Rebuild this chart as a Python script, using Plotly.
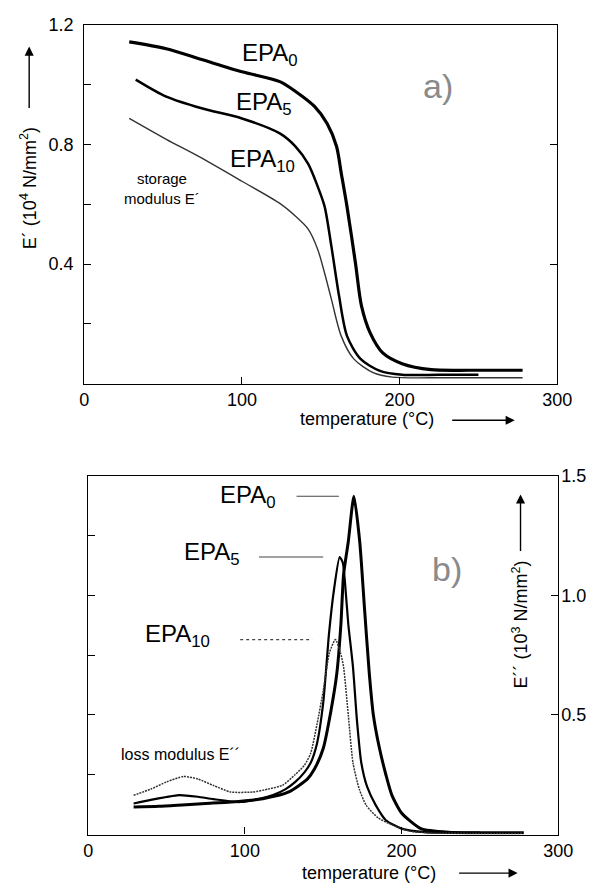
import plotly.graph_objects as go

# ---- data ----
# (a) storage modulus E' (10^4 N/mm^2) vs temperature (degC)
t_epa0_st = [28.5, 52, 75, 100, 124, 134, 146, 154, 160, 163, 166.6, 172, 175.8, 181.3, 189.3, 201.6, 220, 245, 278]
e_epa0_st = [1.143, 1.12, 1.083, 1.043, 1.01, 0.977, 0.927, 0.87, 0.793, 0.703, 0.593, 0.403, 0.26, 0.17, 0.103, 0.067, 0.047, 0.045, 0.045]

t_epa5_st = [32.6, 52, 75, 100, 124, 134, 142, 148, 152.4, 156.7, 161.6, 166.6, 175.2, 187.5, 201.6, 225, 250]
e_epa5_st = [1.017, 0.96, 0.92, 0.887, 0.837, 0.793, 0.735, 0.66, 0.593, 0.46, 0.293, 0.16, 0.083, 0.043, 0.03, 0.03, 0.03]

t_epa10_st = [28.5, 52, 72.5, 100, 124, 134, 142, 148, 152.4, 156.7, 162.9, 170.9, 183.2, 195.4, 230, 278]
e_epa10_st = [0.887, 0.817, 0.76, 0.677, 0.603, 0.56, 0.517, 0.45, 0.37, 0.283, 0.16, 0.083, 0.037, 0.022, 0.02, 0.02]

# (b) loss modulus E'' (10^3 N/mm^2) vs temperature (degC)
t_epa0_ls = [29, 45, 60, 75, 91, 111.5, 128, 140, 144.4, 150, 155, 158.7, 161.3, 163, 166, 169.6, 173.3, 176.3, 179.4, 182, 185.6, 190, 193.8, 200, 212.3, 230, 278]
e_epa0_ls = [0.115, 0.118, 0.124, 0.13, 0.136, 0.15, 0.178, 0.233, 0.274, 0.36, 0.52, 0.674, 0.88, 1.087, 1.224, 1.414, 1.224, 0.95, 0.674, 0.5, 0.37, 0.25, 0.165, 0.09, 0.025, 0.01, 0.008]

t_epa5_ls = [29, 40, 50, 58, 70, 80, 97, 110, 118, 126, 132, 138, 142, 146, 150, 153.7, 156.8, 160.5, 162.5, 164, 166, 169, 171.5, 174.3, 178, 183.5, 190, 200, 215, 250]
e_epa5_ls = [0.13, 0.145, 0.157, 0.165, 0.158, 0.148, 0.136, 0.15, 0.165, 0.19, 0.219, 0.26, 0.3, 0.38, 0.55, 0.84, 1.02, 1.16, 1.136, 1.045, 0.88, 0.7, 0.48, 0.3, 0.2, 0.123, 0.06, 0.025, 0.01, 0.008]

t_epa10_ls = [29, 40, 50, 61, 70, 80, 91, 105, 115, 124, 132, 138, 142, 146, 150, 154, 157.8, 161, 163, 166, 169, 173, 177.4, 185, 193.8, 205, 220, 240, 278]
e_epa10_ls = [0.164, 0.19, 0.22, 0.243, 0.232, 0.205, 0.178, 0.178, 0.19, 0.206, 0.25, 0.29, 0.34, 0.46, 0.6, 0.76, 0.815, 0.76, 0.7, 0.5, 0.3, 0.19, 0.123, 0.07, 0.041, 0.015, 0.006, 0.005, 0.005]

x_ticks = [0, 100, 200, 300]
y_ticks_a = [0.2, 0.4, 0.6, 0.8, 1.0, 1.2]
y_labels_a = ['', '0.4', '', '0.8', '', '1.2']
y_ticks_a_right = [0.4, 0.8]
y_ticks_b_left = [0.25, 0.5, 0.75, 1.0, 1.25]
y_ticks_b_right = [0.5, 1.0, 1.5]
y_labels_b_right = ['0.5', '1.0', '1.5']

FONT = 'Liberation Sans'
W, H = 610, 884


def px(x):
    return x / W


def py(y):
    return 1 - y / H


fig = go.Figure()

# top panel
fig.add_trace(go.Scatter(x=t_epa0_st, y=e_epa0_st, mode='lines', line=dict(color='black', width=3.2, shape='spline', smoothing=0.8), xaxis='x', yaxis='y'))
fig.add_trace(go.Scatter(x=t_epa5_st, y=e_epa5_st, mode='lines', line=dict(color='black', width=2.5, shape='spline', smoothing=0.8), xaxis='x', yaxis='y'))
fig.add_trace(go.Scatter(x=t_epa10_st, y=e_epa10_st, mode='lines', line=dict(color='#333', width=1.4, shape='spline', smoothing=0.8), xaxis='x', yaxis='y'))

# bottom panel
fig.add_trace(go.Scatter(x=t_epa0_ls, y=e_epa0_ls, mode='lines', line=dict(color='black', width=3, shape='spline', smoothing=0.6), xaxis='x2', yaxis='y2'))
fig.add_trace(go.Scatter(x=t_epa5_ls, y=e_epa5_ls, mode='lines', line=dict(color='black', width=2.2, shape='spline', smoothing=0.6), xaxis='x2', yaxis='y2'))
fig.add_trace(go.Scatter(x=t_epa10_ls, y=e_epa10_ls, mode='lines', line=dict(color='#333', width=1.5, dash='2px,1px', shape='spline', smoothing=0.6), xaxis='x2', yaxis='y2'))

# leader lines for the labels in (b), drawn at each curve's peak height
leaders = [(133, 160, max(e_epa0_ls), 'solid'),
           (109, 150, max(e_epa5_ls), 'solid'),
           (97, 143, max(e_epa10_ls), 'dot')]
for x0, x1, yv, dash in leaders:
    fig.add_trace(go.Scatter(x=[x0, x1], y=[yv, yv], mode='lines', line=dict(color='#444', width=1.2, dash=dash), xaxis='x2', yaxis='y2'))

# empty traces so the right-hand tick axes get drawn
fig.add_trace(go.Scatter(x=[None], y=[None], xaxis='x', yaxis='y3', hoverinfo='skip'))
fig.add_trace(go.Scatter(x=[None], y=[None], xaxis='x2', yaxis='y4', hoverinfo='skip'))

ax_common = dict(showgrid=False, zeroline=False, showline=True, linecolor='black', linewidth=1.2, mirror=True,
                 ticks='inside', ticklen=7, tickcolor='black', tickfont=dict(family=FONT, size=18, color='black'))

fig.update_layout(
    width=W, height=H, margin=dict(l=0, r=0, t=0, b=0),
    paper_bgcolor='white', plot_bgcolor='white', showlegend=False,
    font=dict(family=FONT, color='black'),
    xaxis=dict(domain=[px(82), px(571)], range=[0, 300], anchor='y', tickvals=x_ticks, ticklabelstandoff=0, **ax_common),
    yaxis=dict(domain=[py(378), py(15)], range=[0, 1.2], anchor='x', tickvals=y_ticks_a, ticktext=y_labels_a, ticklabelstandoff=6, **ax_common),
    yaxis3=dict(overlaying='y', side='right', anchor='x', range=[0, 1.2], tickvals=y_ticks_a_right, ticks='inside', ticklen=7,
                tickcolor='black', showticklabels=False, showgrid=False, zeroline=False, showline=False),
    xaxis2=dict(domain=[px(86), px(572)], range=[0, 300], anchor='y2', tickvals=x_ticks, ticklabelstandoff=0, **ax_common),
    yaxis2=dict(domain=[py(834), py(471)], range=[0, 1.5], anchor='x2', tickvals=y_ticks_b_left, showticklabels=False, **ax_common),
    yaxis4=dict(overlaying='y2', side='right', anchor='x2', range=[0, 1.5], tickvals=y_ticks_b_right, ticktext=y_labels_b_right,
                ticks='inside', ticklen=7, tickcolor='black',
                tickfont=dict(family=FONT, size=18, color='black'), ticklabelstandoff=2,
                showgrid=False, zeroline=False, showline=False),
)

ann = []
lab = dict(family=FONT, size=24, color='black')
# top labels (data coords)
ann.append(dict(x=98.8, y=1.1, xref='x', yref='y', text='EPA<sub>0</sub>', font=lab, xanchor='left', yanchor='middle', showarrow=False))
ann.append(dict(x=95, y=0.937, xref='x', yref='y', text='EPA<sub>5</sub>', font=lab, xanchor='left', yanchor='middle', showarrow=False))
ann.append(dict(x=91, y=0.745, xref='x', yref='y', text='EPA<sub>10</sub>', font=lab, xanchor='left', yanchor='middle', showarrow=False))
ann.append(dict(x=49, y=0.653, xref='x', yref='y', text='storage<br>modulus E´', font=dict(family=FONT, size=15, color='black'),
                xanchor='center', yanchor='middle', showarrow=False))
ann.append(dict(x=224.5, y=0.995, xref='x', yref='y', text='a)', font=dict(family=FONT, size=34, color='#8a8a8a'),
                xanchor='center', yanchor='middle', showarrow=False))
# bottom labels
ann.append(dict(x=82.7, y=1.414, xref='x2', yref='y2', text='EPA<sub>0</sub>', font=lab, xanchor='left', yanchor='middle', showarrow=False))
ann.append(dict(x=60, y=1.174, xref='x2', yref='y2', text='EPA<sub>5</sub>', font=lab, xanchor='left', yanchor='middle', showarrow=False))
ann.append(dict(x=35.2, y=0.831, xref='x2', yref='y2', text='EPA<sub>10</sub>', font=lab, xanchor='left', yanchor='middle', showarrow=False))
ann.append(dict(x=19.8, y=0.336, xref='x2', yref='y2', text='loss modulus E´´', font=dict(family=FONT, size=16, color='black'),
                xanchor='left', yanchor='middle', showarrow=False))
ann.append(dict(x=229, y=1.11, xref='x2', yref='y2', text='b)', font=dict(family=FONT, size=34, color='#8a8a8a'),
                xanchor='center', yanchor='middle', showarrow=False))

# axis titles
tfont = dict(family=FONT, size=18, color='black')
cm = dict(xref='paper', yref='paper', xanchor='center', yanchor='middle', showarrow=False, font=tfont)
ann.append(dict(x=px(374), y=py(414), text='temperature (°C)', **cm))
ann.append(dict(x=px(376), y=py(873), text='temperature (°C)', **cm))
ann.append(dict(x=px(25), y=py(180), text='E´ (10<sup>4</sup> N/mm<sup>2</sup>)', textangle=-90, **cm))
ann.append(dict(x=px(533), y=py(622), text='E´´ (10<sup>3</sup> N/mm<sup>2</sup>)', textangle=-90, **cm))

# arrows next to the axis titles
arr = dict(xref='paper', yref='paper', text='', showarrow=True, arrowhead=2, arrowsize=1.3, arrowwidth=1.4, arrowcolor='black')
ann.append(dict(x=px(527), y=py(415), ax=-64, ay=0, **arr))
ann.append(dict(x=px(530), y=py(873), ax=-60, ay=0, **arr))
ann.append(dict(x=px(25), y=py(37), ax=0, ay=63, **arr))
ann.append(dict(x=px(533), y=py(490), ax=0, ay=58, **arr))

fig.update_layout(annotations=ann)

# page body has a default 8px margin; remove it so the figure sits at the window origin
fig.write_html("out.html", config={'displayModeBar': False},
               post_script="document.body.style.margin='0';document.body.style.overflow='hidden';")
